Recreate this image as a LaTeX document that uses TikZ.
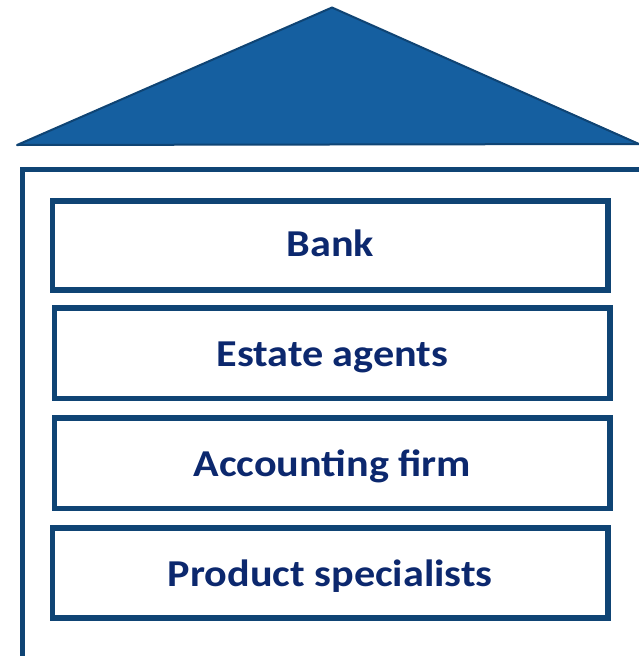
\documentclass[tikz,border=0pt]{standalone}
\usepackage{fontspec}
\setmainfont{Carlito}[FakeStretch=1.11]
\usepackage{tikz}
\usetikzlibrary{positioning}

\definecolor{roofblue}{RGB}{21,95,160}
\definecolor{edgeblue}{RGB}{15,68,116}
\definecolor{textnavy}{RGB}{12,40,110}

\tikzset{
  layer/.style={draw=edgeblue, line width=5.3pt, fill=white,
    minimum width=555.5pt, minimum height=89pt, inner sep=0pt,
    text height=27pt, text depth=0pt,
    font=\fontsize{38}{42}\selectfont\bfseries, text=textnavy}
}

\begin{document}
\begin{tikzpicture}[x=1pt,y=-1pt]

\useasboundingbox (0,0) rectangle (639,656);

% roof
\draw[fill=roofblue, draw=edgeblue, line width=2pt, line join=round]
    (17,145) -- (332,7.5) -- (639,144) -- cycle;

% wall
\draw[edgeblue, line width=5pt] (639,169) -- (22.5,169) -- (22.5,656);

% floors
\node[layer, text height=21pt] (bank) at (330.25,245.5) {Bank};
\node[layer, minimum height=90.7pt] (agents) at (332.35,353.35) {Estate agents};
\node[layer, minimum height=90.7pt] (accounting) at (332.35,463.35) {Accounting firm};
\node[layer, minimum height=90pt] (specialists) at (330.25,573) {Product specialists};

\end{tikzpicture}
\end{document}
